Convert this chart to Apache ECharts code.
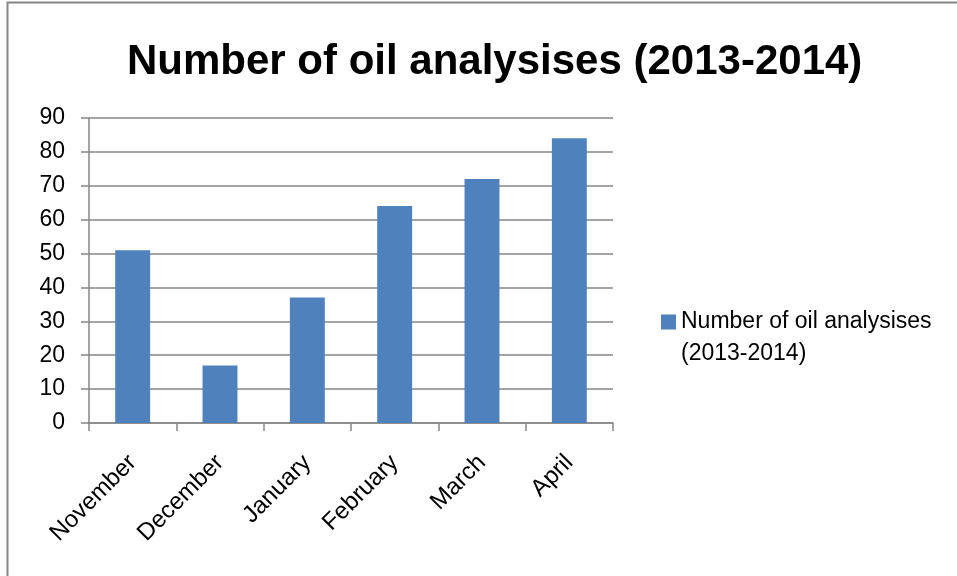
<!DOCTYPE html>
<html><head><meta charset="utf-8">
<script src="https://cdn.jsdelivr.net/npm/echarts@6/dist/echarts.min.js"></script>
<style>html,body{margin:0;padding:0;background:#fff}#c{width:957px;height:576px}</style>
</head><body><div id="c"></div>
<script>
const categories = ['November','December','January','February','March','April'];
const seriesName = 'Number of oil analysises (2013-2014)';
const values = [51, 17, 37, 64, 72, 84];
const yTicks = {min: 0, max: 90, interval: 10};

const chart = echarts.init(document.getElementById('c'), null, {renderer: 'canvas'});
const font = '"Liberation Sans", Arial, sans-serif';
chart.setOption({
  animation: false,
  backgroundColor: '#fff',
  graphic: [{
    type: 'rect', shape: {x: 7.5, y: 2.5, width: 960, height: 600},
    style: {fill: 'none', stroke: '#868686', lineWidth: 2}, silent: true
  }],
  title: {
    text: seriesName, left: 122, top: 36,
    textStyle: {fontFamily: font, fontWeight: 'bold', fontSize: 42, color: '#000'}
  },
  legend: {
    left: 656, top: 301, itemWidth: 15, itemHeight: 47, itemGap: 6,
    icon: 'path://M0,0L15,0L15,15L0,15Z M0,47L0.01,47L0.01,46.99Z',
    formatter: () => 'Number of oil analysises\n(2013-2014)',
    textStyle: {fontFamily: font, fontSize: 23, color: '#000', lineHeight: 32}
  },
  grid: {left: 89, right: 344, top: 118, bottom: 153, containLabel: false},
  xAxis: {
    type: 'category', data: categories,
    axisLine: {lineStyle: {color: '#868686', width: 1.5}},
    axisTick: {show: true, length: 8, lineStyle: {color: '#868686', width: 1.5}},
    axisLabel: {rotate: 45, fontFamily: font, fontSize: 24, color: '#000', margin: 36}
  },
  yAxis: {
    type: 'value', min: yTicks.min, max: yTicks.max, interval: yTicks.interval,
    axisLine: {show: true, lineStyle: {color: '#868686', width: 1.5}},
    axisTick: {show: true, length: 8, lineStyle: {color: '#868686', width: 1.5}},
    splitLine: {lineStyle: {color: '#868686', width: 1.5}},
    axisLabel: {fontFamily: font, fontSize: 23, color: '#000', margin: 24}
  },
  series: [{
    name: seriesName, type: 'bar', data: values, barWidth: '40%',
    itemStyle: {color: '#4F81BD'}
  }]
});
</script></body></html>
